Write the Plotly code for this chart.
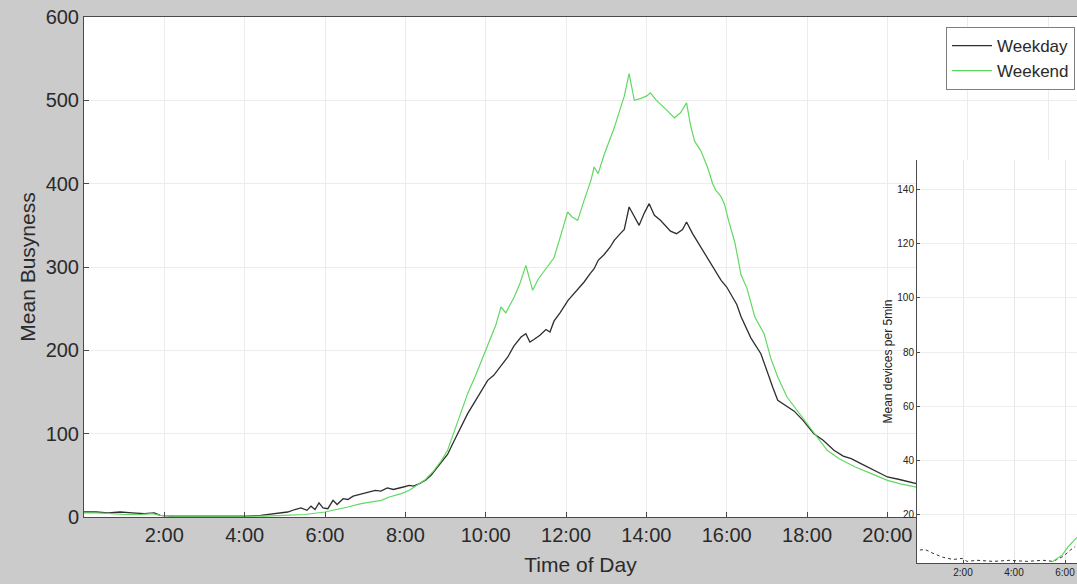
import plotly.graph_objects as go

# ---------------- data ----------------
weekday_h = [0.0, 0.3, 0.6, 0.9, 1.2, 1.5, 1.75, 1.9, 2.2, 2.6, 3.0, 3.5, 4.0, 4.4, 4.6, 4.85,
             5.07, 5.25, 5.4, 5.55, 5.65, 5.75, 5.85, 5.95, 6.07, 6.2, 6.3, 6.45, 6.57, 6.7,
             6.85, 6.97, 7.1, 7.25, 7.39, 7.55, 7.7, 7.8, 7.95, 8.1, 8.2, 8.35, 8.5, 8.64,
             8.8, 9.05, 9.2, 9.35, 9.55, 9.75, 9.9, 10.05, 10.2, 10.38, 10.55, 10.7, 10.88,
             11.0, 11.1, 11.2, 11.35, 11.5, 11.6, 11.7, 11.85, 12.05, 12.2, 12.45, 12.6,
             12.7, 12.8, 12.95, 13.1, 13.2, 13.35, 13.45, 13.57, 13.7, 13.82, 13.95, 14.07,
             14.2, 14.35, 14.6, 14.75, 14.9, 15.0, 15.15, 15.3, 15.52, 15.7, 15.86, 16.0,
             16.1, 16.25, 16.36, 16.6, 16.85, 17.0, 17.15, 17.27, 17.45, 17.68, 17.9, 18.17,
             18.4, 18.67, 18.9, 19.1, 19.34, 19.6, 19.8, 20.0, 20.3, 20.66, 20.9]
weekday_v = [6, 6, 5, 6, 5, 4, 5, 2, 1, 1, 1, 1, 1, 2, 3, 5,
             6, 9, 11, 8, 13, 9, 17, 11, 10, 20, 15, 22, 21, 25,
             27, 28, 30, 32, 31, 35, 33, 34, 36, 38, 37, 40, 44, 50,
             60, 75, 90, 105, 124, 140, 152, 164, 170, 181, 192, 205, 216,
             220, 210, 213, 218, 225, 222, 235, 245, 260, 268, 282, 292,
             298, 308, 315, 324, 332, 340, 345, 372, 360, 350, 365, 376,
             362, 356, 343, 340, 345, 354, 340, 328, 312, 296, 284, 276,
             268, 255, 240, 215, 196, 175, 155, 140, 134, 127, 116, 100,
             92, 80, 73, 70, 64, 58, 53, 48, 45, 41, 38]

weekend_h = [0.0, 0.3, 0.7, 1.0, 1.4, 1.7, 1.9, 2.3, 3.0, 3.5, 4.0, 4.5, 5.0, 5.5, 6.0,
             6.3, 6.57, 6.9, 7.15, 7.4, 7.6, 7.9, 8.1, 8.3, 8.5, 8.7, 8.9, 9.05, 9.2,
             9.35, 9.55, 9.75, 9.96, 10.13, 10.25, 10.38, 10.5, 10.71, 10.85, 11.0, 11.17,
             11.3, 11.54, 11.7, 11.85, 12.04, 12.15, 12.29, 12.45, 12.62, 12.7, 12.8,
             12.95, 13.1, 13.2, 13.35, 13.45, 13.57, 13.7, 13.85, 14.0, 14.1, 14.25,
             14.45, 14.6, 14.7, 14.85, 15.0, 15.1, 15.2, 15.35, 15.52, 15.65, 15.73,
             15.85, 15.94, 16.05, 16.2, 16.36, 16.5, 16.7, 16.93, 17.1, 17.27, 17.5,
             17.75, 18.0, 18.25, 18.5, 18.8, 19.2, 19.6, 20.0, 20.3, 20.66, 20.9]
weekend_v = [5, 5, 4, 3, 3, 4, 2, 1, 1, 1, 1, 1, 2, 3, 6,
             9, 12, 16, 18, 20, 24, 28, 32, 38, 45, 55, 68, 80, 100,
             120, 148, 170, 196, 216, 230, 252, 245, 264, 280, 302, 272,
             285, 300, 311, 335, 366, 360, 356, 380, 404, 420, 412,
             435, 455, 467, 490, 505, 532, 500, 502, 505, 509, 500,
             491, 484, 479, 485, 497, 470, 451, 440, 420, 400, 392,
             385, 376, 355, 330, 290, 275, 240, 220, 190, 168, 144,
             128, 112, 95, 80, 70, 60, 52, 44, 40, 36, 34]

x_tick_vals = [2, 4, 6, 8, 10, 12, 14, 16, 18, 20, 22, 24]
x_tick_text = ["2:00", "4:00", "6:00", "8:00", "10:00", "12:00", "14:00", "16:00",
               "18:00", "20:00", "", ""]
y_tick_vals = [0, 100, 200, 300, 400, 500, 600]

# inset (overlaid fragment of another chart)
inset_dark_h = [0.31, 0.51, 0.82, 1.22, 1.61, 1.96, 2.16, 2.55, 3.18, 3.84, 4.5, 5.14,
                5.53, 5.92, 6.2, 6.4]
inset_dark_v = [6.8, 7.0, 5.6, 4.1, 3.3, 3.7, 2.6, 3.0, 2.6, 3.0, 2.6, 3.0,
                2.6, 4.4, 6.7, 8.1]
inset_green_h = [5.5, 5.9, 6.1, 6.3, 6.47]
inset_green_v = [2.5, 5.0, 7.8, 10.0, 11.5]
inset_x_ticks = [2, 4, 6]
inset_x_text = ["2:00", "4:00", "6:00"]
inset_y_ticks = [20, 40, 60, 80, 100, 120, 140]

# ---------------- figure ----------------
W, H = 1077, 584
L, R, T, B = 84, 0, 17, 10
plot_w = W - L - R
plot_h = H - T - B

def px_to_x(px):
    return (px - L) / plot_w

def px_to_y(py):
    return (H - B - py) / plot_h

GRAY_TXT = "#2a2a2a"
AX_COL = "#4a4a4a"
FONT = "Liberation Sans, Arial, sans-serif"

fig = go.Figure()
fig.add_trace(go.Scatter(x=weekday_h, y=weekday_v, mode="lines", name="Weekday",
                         line=dict(color="#2e2e2e", width=1.3), xaxis="x", yaxis="y"))
fig.add_trace(go.Scatter(x=weekend_h, y=weekend_v, mode="lines", name="Weekend",
                         line=dict(color="#62d862", width=1.2), xaxis="x", yaxis="y"))
fig.add_trace(go.Scatter(x=inset_dark_h, y=inset_dark_v, mode="lines", showlegend=False,
                         line=dict(color="#333333", width=1, dash="dot"), xaxis="x2", yaxis="y2"))
fig.add_trace(go.Scatter(x=inset_green_h, y=inset_green_v, mode="lines", showlegend=False,
                         line=dict(color="#62d862", width=1.2), xaxis="x2", yaxis="y2"))

main_bottom = px_to_y(517)
fig.update_layout(
    width=W, height=H,
    margin=dict(l=L, r=R, t=T, b=B),
    paper_bgcolor="#cbcbcb",
    plot_bgcolor="white",
    font=dict(family=FONT, color=GRAY_TXT),
    xaxis=dict(domain=[0, 1], range=[0, plot_w / 40.17], tickvals=x_tick_vals,
               ticktext=x_tick_text, ticks="inside", ticklen=5, tickcolor=AX_COL,
               showgrid=True, gridcolor="#ececec", gridwidth=1, zeroline=False,
               showline=True, linecolor=AX_COL, linewidth=1, mirror=True,
               tickfont=dict(size=20, color=GRAY_TXT),
               title=dict(text="Time of Day", font=dict(size=21, color=GRAY_TXT), standoff=12),
               anchor="y"),
    yaxis=dict(domain=[main_bottom, 1], range=[0, 600], tickvals=y_tick_vals,
               ticks="inside", ticklen=5, tickcolor=AX_COL,
               showgrid=True, gridcolor="#ececec", gridwidth=1, zeroline=False,
               showline=True, linecolor=AX_COL, linewidth=1, mirror=False,
               tickfont=dict(size=20, color=GRAY_TXT),
               title=dict(text="Mean Busyness", font=dict(size=21, color=GRAY_TXT), standoff=4),
               anchor="x"),
    xaxis2=dict(domain=[px_to_x(917), 1], range=[(917 - 912) / 25.5, (1077 - 912) / 25.5],
                tickvals=inset_x_ticks, ticktext=inset_x_text, ticks="inside", ticklen=3,
                tickcolor=AX_COL, showgrid=True, gridcolor="#e6e6e6", zeroline=False,
                showline=True, linecolor=AX_COL, linewidth=1, mirror=False,
                tickfont=dict(size=10, color="#222222"), anchor="y2"),
    yaxis2=dict(domain=[px_to_y(563), px_to_y(160)], range=[2, 151],
                tickvals=inset_y_ticks, ticks="inside", ticklen=3, tickcolor=AX_COL,
                showgrid=True, gridcolor="#eeeeee", zeroline=False,
                showline=True, linecolor=AX_COL, linewidth=1, mirror=False,
                tickfont=dict(size=10, color="#222222"),
                title=dict(text="Mean devices per 5min", font=dict(size=12, color="#222222"),
                           standoff=2),
                anchor="x2"),
    legend=dict(x=px_to_x(1075), xanchor="right", y=1 - 10 / plot_h, yanchor="top",
                bgcolor="white", bordercolor="#808080", borderwidth=1,
                font=dict(size=17, color=GRAY_TXT), tracegroupgap=0, itemwidth=40),
    showlegend=True,
)

fig.write_html("out.html", config={"displayModeBar": False},
               post_script="document.body.style.margin='0';document.body.style.padding='0';")
